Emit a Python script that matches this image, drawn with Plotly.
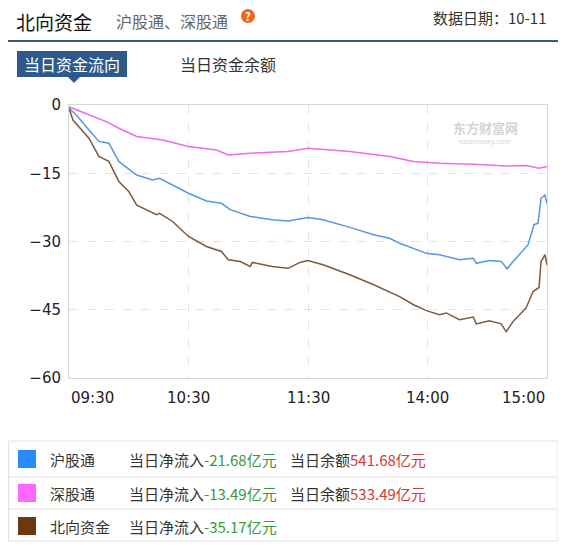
import plotly.graph_objects as go

# page has an 8px body margin, so the figure starts at (8, 8) of the window
OFF = 8
W, H = 566 - OFF, 546 - OFF

# minutes since 09:30 (trading minutes, lunch break removed)
hgtMin = [0, 3.7, 10, 15, 20, 25, 34, 42, 45.5, 52, 60, 69, 76.5, 81, 91, 102, 110, 120, 127.5, 141, 153, 161, 166,
          179.5, 186, 196, 203, 204.5, 211, 217, 220, 223, 230.5, 233.5, 235.5, 237, 239, 240]
hgtVal = [-0.7, -2.2, -5.5, -8, -8.4, -12.4, -15.4, -16.5, -16.1, -17.6, -19.4, -21.1, -21.6, -23, -24.5, -25.2, -25.5,
          -24.7, -25.2, -26.9, -28.5, -29.3, -30.4, -32.6, -32.9, -34, -33.7, -34.8, -34.2, -34.4, -36, -34.4, -30.7,
          -26.3, -26, -20.5, -19.8, -21.68]

sgtMin = [0, 10, 19, 25, 34, 47, 60, 74, 80, 91, 110, 120, 141, 161, 173, 186, 203, 219.5, 229.5, 236, 240]
sgtVal = [-0.4, -2.2, -3.7, -5.1, -6.9, -7.7, -9.1, -9.9, -11, -10.6, -10.2, -9.5, -10.2, -11.3, -12.4, -12.8, -13,
          -13.4, -13.3, -13.9, -13.49]

bxMin = [0, 2, 10, 15, 20, 25, 30, 34, 44, 45.5, 52, 60, 69, 76.5, 80, 86, 91, 92, 102, 110, 116, 120, 127.5, 141, 153,
         161, 166, 173, 179.5, 186, 189.5, 196, 203, 204.5, 211, 217, 219.5, 223, 229.5, 233, 236, 237, 239, 240]
bxVal = [-0.7, -3.3, -7.3, -11.3, -12.4, -16.8, -19, -22, -24.1, -23.8, -25.6, -28.9, -31.1, -32.2, -34, -34.4, -35.5,
         -34.6, -35.5, -35.9, -34.6, -34.2, -35.1, -37.3, -39.5, -41, -42.1, -43.9, -45.2, -46.1, -45.7, -47.2, -46.6,
         -48.1, -47.4, -48.1, -49.8, -47.6, -44.6, -41, -40.1, -34.4, -32.9, -35.17]

tickPos = [0, 60, 120, 180, 240]
tickText = ["09:30", "10:30", "11:30", "14:00", "15:00"]
yTicks = [0, -15, -30, -45, -60]

legendNames = ["沪股通", "深股通", "北向资金"]
legendColors = ["#2a8cf8", "#ff66ff", "#6b3a0c"]
netFlow = ["-21.68", "-13.49", "-35.17"]
balance = ["541.68", "533.49", None]

FONT = "Noto Sans CJK SC"


def px(x):
    return (x - OFF) / W


def py(y):
    return 1 - (y - OFF) / H


fig = go.Figure()
fig.add_trace(go.Scatter(x=hgtMin, y=hgtVal, mode="lines", line=dict(color="#5596e6", width=1.5)))
fig.add_trace(go.Scatter(x=sgtMin, y=sgtVal, mode="lines", line=dict(color="#ee6aee", width=1.5)))
fig.add_trace(go.Scatter(x=bxMin, y=bxVal, mode="lines", line=dict(color="#7d5a3c", width=1.5)))

grid = dict(showgrid=True, gridcolor="#e4e4e4", griddash="dash", zeroline=False, automargin=False,
            showline=True, linecolor="#d8d8d8", mirror=True, ticks="",
            tickfont=dict(size=15, color="#222", family="DejaVu Sans"))
fig.update_xaxes(range=[0, 240], tickvals=tickPos, showticklabels=False, domain=[px(69), px(547)], **grid)
fig.update_yaxes(range=[-60, 0], tickvals=yTicks, ticklabelstandoff=4, domain=[py(378), py(105)], **grid)

ann = []
shapes = []

# x tick labels, end labels kept inside the plot edges
anchors = ["left", "center", "center", "center", "right"]
for i in range(len(tickPos)):
    ann.append(dict(x=tickPos[i], y=py(398), xref="x", yref="paper", text=tickText[i], showarrow=False,
                    xanchor=anchors[i], yanchor="middle", font=dict(size=15, color="#222", family="DejaVu Sans")))


def text(x, y, s, size=14, color="#333", anchor="left"):
    ann.append(dict(x=px(x), y=py(y), xref="paper", yref="paper", text=s, showarrow=False,
                    xanchor=anchor, yanchor="middle", font=dict(size=size, color=color, family=FONT)))


# header
text(14, 22, "北向资金", size=19, color="#111")
text(114, 21, "沪股通、深股通", size=16, color="#666")
shapes.append(dict(type="circle", xref="paper", yref="paper", x0=px(241), x1=px(255), y0=py(23), y1=py(9),
                   fillcolor="#f0661a", line=dict(width=0), layer="below"))
text(248, 16, "<b>?</b>", size=11, color="white", anchor="center")
text(549, 18, "数据日期：10-11", size=15, color="#333", anchor="right")
shapes.append(dict(type="line", xref="paper", yref="paper", x0=px(8), x1=1, y0=py(41), y1=py(41),
                   line=dict(color="#3d5870", width=2)))

# tabs
shapes.append(dict(type="rect", xref="paper", yref="paper", x0=px(17), x1=px(127), y0=py(77), y1=py(51),
                   fillcolor="#2d5a8a", line=dict(width=0), layer="below"))
shapes.append(dict(type="path", xref="paper", yref="paper",
                   path=f"M {px(68)},{py(77)} L {px(80)},{py(77)} L {px(74)},{py(83)} Z",
                   fillcolor="#2d5a8a", line=dict(width=0)))
text(72, 64, "当日资金流向", size=16, color="white", anchor="center")
text(228, 64, "当日资金余额", size=16, color="#333", anchor="center")

# watermark
text(485, 127, "<b>东方财富网</b>", size=13, color="#d4d4d4", anchor="center")
text(485, 141, "eastmoney.com", size=7, color="#d4d4d4", anchor="center")

# legend table
for yy in [441, 477, 509, 541]:
    shapes.append(dict(type="line", xref="paper", yref="paper", x0=px(8), x1=px(558), y0=py(yy), y1=py(yy),
                       line=dict(color="#e2e2e2", width=1)))
for xx in [8.5, 558]:
    shapes.append(dict(type="line", xref="paper", yref="paper", x0=px(xx), x1=px(xx), y0=py(441), y1=py(541),
                       line=dict(color="#e2e2e2", width=1)))
rowY = [459, 493, 526]
for i in range(3):
    y = rowY[i]
    shapes.append(dict(type="rect", xref="paper", yref="paper", x0=px(18), x1=px(36), y0=py(y + 9), y1=py(y - 9),
                       fillcolor=legendColors[i], line=dict(width=0)))
    text(48, y, legendNames[i], size=15, color="#333")
    text(127, y, "当日净流入<span style='color:#3a9a3a'>" + netFlow[i] + "亿元</span>", size=15)
    if balance[i]:
        text(288, y, "当日余额<span style='color:#d43a3a'>" + balance[i] + "亿元</span>", size=15)

fig.update_layout(width=W, height=H, margin=dict(l=0, r=0, t=0, b=0, autoexpand=False), showlegend=False,
                  plot_bgcolor="white", paper_bgcolor="white", annotations=ann, shapes=shapes)
fig.write_html("out.html")
